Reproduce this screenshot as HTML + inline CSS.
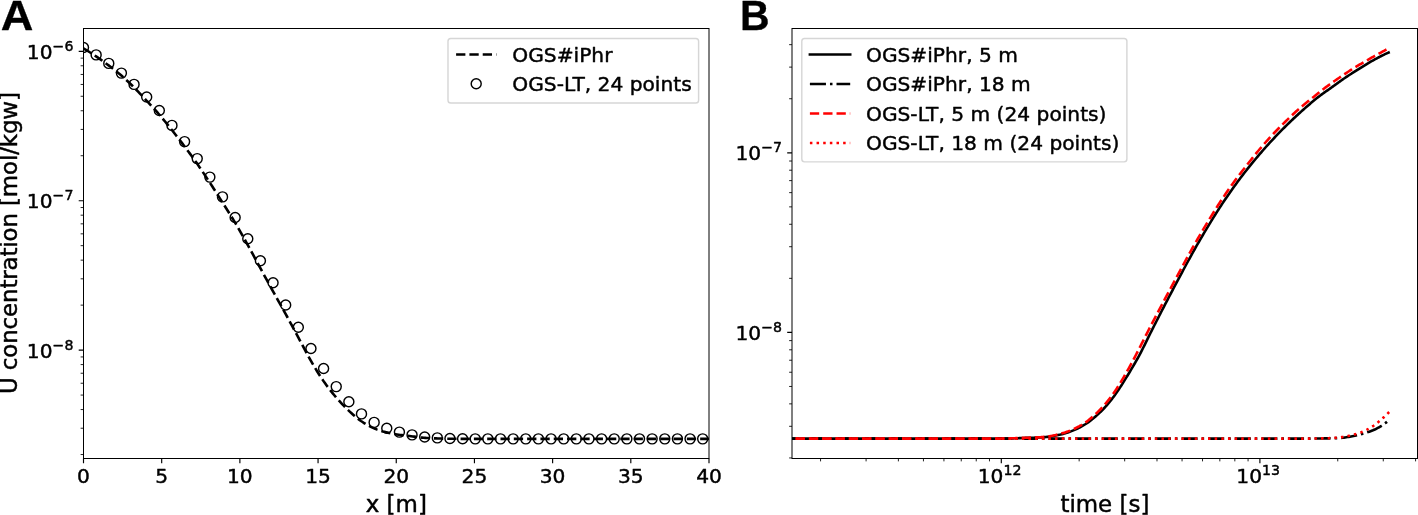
<!DOCTYPE html>
<html lang="en"><head><meta charset="utf-8"><title>Figure</title>
<style>html,body{margin:0;padding:0;background:#fff}body{width:1418px;height:515px;overflow:hidden}svg{display:block}</style>
</head><body>
<svg width="1418" height="515" viewBox="0 0 1418 515" font-family='"DejaVu Sans", "Liberation Sans", sans-serif' font-size="20.2" fill="#000">
<style>text{stroke:#000;stroke-width:0.45px;stroke-linejoin:round}text.b{stroke-width:0.3px}</style>
<rect x="0" y="0" width="1418" height="515" fill="#fff"/>
<defs><clipPath id="ca"><rect x="83.5" y="28.5" width="625.5" height="430"/></clipPath><clipPath id="cb"><rect x="792" y="28.5" width="625.5" height="430"/></clipPath></defs>
<g clip-path="url(#ca)">
<path d="M83.5 48.4 L85.07 49.34 L86.64 50.29 L88.2 51.26 L89.77 52.25 L91.34 53.26 L92.91 54.28 L94.47 55.31 L96.04 56.36 L97.61 57.43 L99.18 58.52 L100.74 59.62 L102.31 60.75 L103.88 61.89 L105.45 63.04 L107.02 64.21 L108.58 65.39 L110.15 66.57 L111.72 67.76 L113.29 68.97 L114.85 70.19 L116.42 71.43 L117.99 72.7 L119.56 73.99 L121.12 75.32 L122.69 76.69 L124.26 78.09 L125.83 79.52 L127.39 80.98 L128.96 82.47 L130.53 83.99 L132.1 85.52 L133.67 87.07 L135.23 88.64 L136.8 90.25 L138.37 91.88 L139.94 93.54 L141.5 95.22 L143.07 96.9 L144.64 98.6 L146.21 100.28 L147.77 101.97 L149.34 103.65 L150.91 105.33 L152.48 107.02 L154.05 108.73 L155.61 110.46 L157.18 112.21 L158.75 113.99 L160.32 115.81 L161.88 117.67 L163.45 119.55 L165.02 121.46 L166.59 123.39 L168.15 125.34 L169.72 127.29 L171.29 129.26 L172.86 131.23 L174.42 133.22 L175.99 135.22 L177.56 137.23 L179.13 139.26 L180.7 141.31 L182.26 143.37 L183.83 145.44 L185.4 147.53 L186.97 149.64 L188.53 151.75 L190.1 153.89 L191.67 156.04 L193.24 158.21 L194.8 160.4 L196.37 162.62 L197.94 164.86 L199.51 167.14 L201.08 169.44 L202.64 171.77 L204.21 174.12 L205.78 176.48 L207.35 178.86 L208.91 181.25 L210.48 183.65 L212.05 186.07 L213.62 188.51 L215.18 190.96 L216.75 193.43 L218.32 195.9 L219.89 198.38 L221.45 200.86 L223.02 203.34 L224.59 205.81 L226.16 208.27 L227.73 210.74 L229.29 213.22 L230.86 215.72 L232.43 218.26 L234 220.83 L235.56 223.45 L237.13 226.12 L238.7 228.83 L240.27 231.58 L241.83 234.35 L243.4 237.15 L244.97 239.96 L246.54 242.79 L248.11 245.61 L249.67 248.46 L251.24 251.34 L252.81 254.23 L254.38 257.14 L255.94 260.05 L257.51 262.96 L259.08 265.85 L260.65 268.74 L262.21 271.61 L263.78 274.49 L265.35 277.36 L266.92 280.23 L268.48 283.09 L270.05 285.95 L271.62 288.8 L273.19 291.64 L274.76 294.46 L276.32 297.27 L277.89 300.07 L279.46 302.86 L281.03 305.66 L282.59 308.47 L284.16 311.29 L285.73 314.14 L287.3 317 L288.86 319.89 L290.43 322.78 L292 325.69 L293.57 328.61 L295.14 331.52 L296.7 334.44 L298.27 337.35 L299.84 340.27 L301.41 343.24 L302.97 346.22 L304.54 349.19 L306.11 352.14 L307.68 355.05 L309.24 357.89 L310.81 360.65 L312.38 363.34 L313.95 366.01 L315.52 368.64 L317.08 371.22 L318.65 373.75 L320.22 376.2 L321.79 378.58 L323.35 380.88 L324.92 383.09 L326.49 385.25 L328.06 387.35 L329.62 389.4 L331.19 391.4 L332.76 393.34 L334.33 395.23 L335.89 397.08 L337.46 398.88 L339.03 400.65 L340.6 402.38 L342.17 404.07 L343.73 405.71 L345.3 407.31 L346.87 408.86 L348.44 410.36 L350 411.83 L351.57 413.27 L353.14 414.69 L354.71 416.06 L356.27 417.39 L357.84 418.66 L359.41 419.86 L360.98 420.98 L362.55 422.03 L364.11 423.05 L365.68 424.03 L367.25 424.96 L368.82 425.85 L370.38 426.68 L371.95 427.44 L373.52 428.14 L375.09 428.78 L376.65 429.38 L378.22 429.94 L379.79 430.47 L381.36 430.97 L382.92 431.44 L384.49 431.87 L386.06 432.27 L387.63 432.64 L389.2 432.99 L390.76 433.32 L392.33 433.63 L393.9 433.92 L395.47 434.19 L397.03 434.45 L398.6 434.7 L400.17 434.93 L401.74 435.14 L403.3 435.33 L404.87 435.52 L406.44 435.7 L408.01 435.88 L409.58 436.05 L411.14 436.23 L412.71 436.42 L414.28 436.63 L415.85 436.84 L417.41 437.05 L418.98 437.25 L420.55 437.44 L422.12 437.61 L423.68 437.75 L425.25 437.87 L426.82 437.97 L428.39 438.06 L429.95 438.15 L431.52 438.23 L433.09 438.3 L434.66 438.37 L436.23 438.42 L437.79 438.48 L439.36 438.52 L440.93 438.57 L442.5 438.61 L444.06 438.65 L445.63 438.69 L447.2 438.71 L448.77 438.74 L450.33 438.76 L451.9 438.78 L453.47 438.79 L455.04 438.81 L456.61 438.82 L458.17 438.84 L459.74 438.84 L461.31 438.85 L462.88 438.85 L464.44 438.85 L466.01 438.85 L467.58 438.85 L469.15 438.85 L470.71 438.85 L472.28 438.85 L473.85 438.85 L475.42 438.85 L476.98 438.85 L478.55 438.85 L480.12 438.85 L481.69 438.85 L483.26 438.85 L484.82 438.85 L486.39 438.85 L487.96 438.85 L489.53 438.85 L491.09 438.85 L492.66 438.85 L494.23 438.85 L495.8 438.85 L497.36 438.85 L498.93 438.85 L500.5 438.85 L502.07 438.85 L503.64 438.85 L505.2 438.85 L506.77 438.85 L508.34 438.85 L509.91 438.85 L511.47 438.85 L513.04 438.85 L514.61 438.85 L516.18 438.85 L517.74 438.85 L519.31 438.85 L520.88 438.85 L522.45 438.85 L524.02 438.85 L525.58 438.85 L527.15 438.85 L528.72 438.85 L530.29 438.85 L531.85 438.85 L533.42 438.85 L534.99 438.85 L536.56 438.85 L538.12 438.85 L539.69 438.85 L541.26 438.85 L542.83 438.85 L544.39 438.85 L545.96 438.85 L547.53 438.85 L549.1 438.85 L550.67 438.85 L552.23 438.85 L553.8 438.85 L555.37 438.85 L556.94 438.85 L558.5 438.85 L560.07 438.85 L561.64 438.85 L563.21 438.85 L564.77 438.85 L566.34 438.85 L567.91 438.85 L569.48 438.85 L571.05 438.85 L572.61 438.85 L574.18 438.85 L575.75 438.85 L577.32 438.85 L578.88 438.85 L580.45 438.85 L582.02 438.85 L583.59 438.85 L585.15 438.85 L586.72 438.85 L588.29 438.85 L589.86 438.85 L591.42 438.85 L592.99 438.85 L594.56 438.85 L596.13 438.85 L597.7 438.85 L599.26 438.85 L600.83 438.85 L602.4 438.85 L603.97 438.85 L605.53 438.85 L607.1 438.85 L608.67 438.85 L610.24 438.85 L611.8 438.85 L613.37 438.85 L614.94 438.85 L616.51 438.85 L618.08 438.85 L619.64 438.85 L621.21 438.85 L622.78 438.85 L624.35 438.85 L625.91 438.85 L627.48 438.85 L629.05 438.85 L630.62 438.85 L632.18 438.85 L633.75 438.85 L635.32 438.85 L636.89 438.85 L638.45 438.85 L640.02 438.85 L641.59 438.85 L643.16 438.85 L644.73 438.85 L646.29 438.85 L647.86 438.85 L649.43 438.85 L651 438.85 L652.56 438.85 L654.13 438.85 L655.7 438.85 L657.27 438.85 L658.83 438.85 L660.4 438.85 L661.97 438.85 L663.54 438.85 L665.11 438.85 L666.67 438.85 L668.24 438.85 L669.81 438.85 L671.38 438.85 L672.94 438.85 L674.51 438.85 L676.08 438.85 L677.65 438.85 L679.21 438.85 L680.78 438.85 L682.35 438.85 L683.92 438.85 L685.48 438.85 L687.05 438.85 L688.62 438.85 L690.19 438.85 L691.76 438.85 L693.32 438.85 L694.89 438.85 L696.46 438.85 L698.03 438.85 L699.59 438.85 L701.16 438.85 L702.73 438.85 L704.3 438.85 L705.86 438.85 L707.43 438.85 L709 438.85" fill="none" stroke="#000" stroke-width="2.6" stroke-dasharray="9.29 4.02"/>
<g fill="none" stroke="#000" stroke-width="1.43">
<circle cx="83.5" cy="47.5" r="5.0"/>
<circle cx="96.14" cy="54.9" r="5.0"/>
<circle cx="108.77" cy="63.4" r="5.0"/>
<circle cx="121.41" cy="73.1" r="5.0"/>
<circle cx="134.05" cy="84.4" r="5.0"/>
<circle cx="146.68" cy="97" r="5.0"/>
<circle cx="159.32" cy="110.5" r="5.0"/>
<circle cx="171.95" cy="125.4" r="5.0"/>
<circle cx="184.59" cy="141.6" r="5.0"/>
<circle cx="197.23" cy="158.6" r="5.0"/>
<circle cx="209.86" cy="177.1" r="5.0"/>
<circle cx="222.5" cy="196.9" r="5.0"/>
<circle cx="235.14" cy="217.5" r="5.0"/>
<circle cx="247.77" cy="238.8" r="5.0"/>
<circle cx="260.41" cy="260.8" r="5.0"/>
<circle cx="273.05" cy="282.7" r="5.0"/>
<circle cx="285.68" cy="305" r="5.0"/>
<circle cx="298.32" cy="327.2" r="5.0"/>
<circle cx="310.95" cy="348.5" r="5.0"/>
<circle cx="323.59" cy="368.5" r="5.0"/>
<circle cx="336.23" cy="386.6" r="5.0"/>
<circle cx="348.86" cy="401.7" r="5.0"/>
<circle cx="361.5" cy="413.9" r="5.0"/>
<circle cx="374.14" cy="422.4" r="5.0"/>
<circle cx="386.77" cy="428.3" r="5.0"/>
<circle cx="399.41" cy="432.1" r="5.0"/>
<circle cx="412.05" cy="434.9" r="5.0"/>
<circle cx="424.68" cy="437" r="5.0"/>
<circle cx="437.32" cy="437.9" r="5.0"/>
<circle cx="449.95" cy="438.45" r="5.0"/>
<circle cx="462.59" cy="438.75" r="5.0"/>
<circle cx="475.23" cy="438.85" r="5.0"/>
<circle cx="487.86" cy="438.85" r="5.0"/>
<circle cx="500.5" cy="438.85" r="5.0"/>
<circle cx="513.14" cy="438.85" r="5.0"/>
<circle cx="525.77" cy="438.85" r="5.0"/>
<circle cx="538.41" cy="438.85" r="5.0"/>
<circle cx="551.05" cy="438.85" r="5.0"/>
<circle cx="563.68" cy="438.85" r="5.0"/>
<circle cx="576.32" cy="438.85" r="5.0"/>
<circle cx="588.95" cy="438.85" r="5.0"/>
<circle cx="601.59" cy="438.85" r="5.0"/>
<circle cx="614.23" cy="438.85" r="5.0"/>
<circle cx="626.86" cy="438.85" r="5.0"/>
<circle cx="639.5" cy="438.85" r="5.0"/>
<circle cx="652.14" cy="438.85" r="5.0"/>
<circle cx="664.77" cy="438.85" r="5.0"/>
<circle cx="677.41" cy="438.85" r="5.0"/>
<circle cx="690.05" cy="438.85" r="5.0"/>
<circle cx="702.68" cy="438.85" r="5.0"/>
</g></g>
<g clip-path="url(#cb)" fill="none" stroke-width="2.6">
<path d="M782.4 438.6 L783.61 438.6 L784.83 438.6 L786.04 438.6 L787.26 438.6 L788.47 438.6 L789.69 438.6 L790.9 438.6 L792.12 438.6 L793.33 438.6 L794.55 438.6 L795.76 438.6 L796.98 438.6 L798.19 438.6 L799.41 438.6 L800.62 438.6 L801.84 438.6 L803.05 438.6 L804.27 438.6 L805.48 438.6 L806.7 438.6 L807.91 438.6 L809.13 438.6 L810.34 438.6 L811.56 438.6 L812.77 438.6 L813.99 438.6 L815.2 438.6 L816.42 438.6 L817.63 438.6 L818.84 438.6 L820.06 438.6 L821.27 438.6 L822.49 438.6 L823.7 438.6 L824.92 438.6 L826.13 438.6 L827.35 438.6 L828.56 438.6 L829.78 438.6 L830.99 438.6 L832.21 438.6 L833.42 438.6 L834.64 438.6 L835.85 438.6 L837.07 438.6 L838.28 438.6 L839.5 438.6 L840.71 438.6 L841.93 438.6 L843.14 438.6 L844.36 438.6 L845.57 438.6 L846.79 438.6 L848 438.6 L849.22 438.6 L850.43 438.6 L851.65 438.6 L852.86 438.6 L854.07 438.6 L855.29 438.6 L856.5 438.6 L857.72 438.6 L858.93 438.6 L860.15 438.6 L861.36 438.6 L862.58 438.6 L863.79 438.6 L865.01 438.6 L866.22 438.6 L867.44 438.6 L868.65 438.6 L869.87 438.6 L871.08 438.6 L872.3 438.6 L873.51 438.6 L874.73 438.6 L875.94 438.6 L877.16 438.6 L878.37 438.6 L879.59 438.6 L880.8 438.6 L882.02 438.6 L883.23 438.6 L884.45 438.6 L885.66 438.6 L886.88 438.6 L888.09 438.6 L889.31 438.6 L890.52 438.6 L891.73 438.6 L892.95 438.6 L894.16 438.6 L895.38 438.6 L896.59 438.6 L897.81 438.6 L899.02 438.6 L900.24 438.6 L901.45 438.6 L902.67 438.6 L903.88 438.6 L905.1 438.6 L906.31 438.6 L907.53 438.6 L908.74 438.6 L909.96 438.6 L911.17 438.6 L912.39 438.6 L913.6 438.6 L914.82 438.6 L916.03 438.6 L917.25 438.6 L918.46 438.6 L919.68 438.6 L920.89 438.6 L922.11 438.6 L923.32 438.6 L924.54 438.6 L925.75 438.6 L926.96 438.6 L928.18 438.6 L929.39 438.6 L930.61 438.6 L931.82 438.6 L933.04 438.6 L934.25 438.6 L935.47 438.6 L936.68 438.6 L937.9 438.6 L939.11 438.6 L940.33 438.6 L941.54 438.6 L942.76 438.6 L943.97 438.6 L945.19 438.6 L946.4 438.6 L947.62 438.6 L948.83 438.6 L950.05 438.6 L951.26 438.6 L952.48 438.6 L953.69 438.6 L954.91 438.6 L956.12 438.6 L957.34 438.6 L958.55 438.6 L959.77 438.6 L960.98 438.6 L962.19 438.6 L963.41 438.6 L964.62 438.6 L965.84 438.6 L967.05 438.6 L968.27 438.6 L969.48 438.6 L970.7 438.6 L971.91 438.6 L973.13 438.6 L974.34 438.6 L975.56 438.6 L976.77 438.6 L977.99 438.6 L979.2 438.6 L980.42 438.6 L981.63 438.6 L982.85 438.6 L984.06 438.6 L985.28 438.6 L986.49 438.6 L987.71 438.6 L988.92 438.6 L990.14 438.6 L991.35 438.6 L992.57 438.6 L993.78 438.6 L995 438.6 L996.21 438.6 L997.42 438.6 L998.64 438.6 L999.85 438.6 L1001.07 438.6 L1002.28 438.59 L1003.5 438.58 L1004.71 438.56 L1005.93 438.53 L1007.14 438.51 L1008.36 438.48 L1009.57 438.45 L1010.79 438.42 L1012 438.38 L1013.22 438.35 L1014.43 438.32 L1015.65 438.28 L1016.86 438.24 L1018.08 438.19 L1019.29 438.14 L1020.51 438.09 L1021.72 438.04 L1022.94 437.99 L1024.15 437.94 L1025.37 437.9 L1026.58 437.86 L1027.8 437.83 L1029.01 437.8 L1030.23 437.77 L1031.44 437.74 L1032.65 437.71 L1033.87 437.68 L1035.08 437.65 L1036.3 437.62 L1037.51 437.58 L1038.73 437.53 L1039.94 437.48 L1041.16 437.42 L1042.37 437.33 L1043.59 437.24 L1044.8 437.13 L1046.02 437.01 L1047.23 436.88 L1048.45 436.74 L1049.66 436.6 L1050.88 436.44 L1052.09 436.25 L1053.31 436.04 L1054.52 435.82 L1055.74 435.58 L1056.95 435.33 L1058.17 435.07 L1059.38 434.8 L1060.6 434.52 L1061.81 434.21 L1063.03 433.9 L1064.24 433.56 L1065.46 433.2 L1066.67 432.83 L1067.88 432.44 L1069.1 432.04 L1070.31 431.6 L1071.53 431.14 L1072.74 430.65 L1073.96 430.14 L1075.17 429.6 L1076.39 429.05 L1077.6 428.47 L1078.82 427.88 L1080.03 427.26 L1081.25 426.61 L1082.46 425.94 L1083.68 425.24 L1084.89 424.51 L1086.11 423.74 L1087.32 422.95 L1088.54 422.13 L1089.75 421.25 L1090.97 420.33 L1092.18 419.36 L1093.4 418.35 L1094.61 417.31 L1095.83 416.24 L1097.04 415.14 L1098.26 414.03 L1099.47 412.89 L1100.69 411.72 L1101.9 410.51 L1103.12 409.27 L1104.33 407.99 L1105.54 406.68 L1106.76 405.32 L1107.97 403.92 L1109.19 402.47 L1110.4 400.96 L1111.62 399.4 L1112.83 397.8 L1114.05 396.15 L1115.26 394.47 L1116.48 392.76 L1117.69 391.02 L1118.91 389.24 L1120.12 387.4 L1121.34 385.51 L1122.55 383.59 L1123.77 381.64 L1124.98 379.67 L1126.2 377.69 L1127.41 375.7 L1128.63 373.71 L1129.84 371.71 L1131.06 369.7 L1132.27 367.66 L1133.49 365.61 L1134.7 363.52 L1135.92 361.41 L1137.13 359.25 L1138.35 357.06 L1139.56 354.82 L1140.77 352.52 L1141.99 350.16 L1143.2 347.75 L1144.42 345.3 L1145.63 342.84 L1146.85 340.36 L1148.06 337.88 L1149.28 335.41 L1150.49 332.96 L1151.71 330.55 L1152.92 328.15 L1154.14 325.76 L1155.35 323.37 L1156.57 320.98 L1157.78 318.59 L1159 316.22 L1160.21 313.85 L1161.43 311.48 L1162.64 309.13 L1163.86 306.79 L1165.07 304.45 L1166.29 302.12 L1167.5 299.79 L1168.72 297.47 L1169.93 295.15 L1171.15 292.84 L1172.36 290.53 L1173.58 288.23 L1174.79 285.94 L1176 283.65 L1177.22 281.36 L1178.43 279.08 L1179.65 276.81 L1180.86 274.54 L1182.08 272.28 L1183.29 270.01 L1184.51 267.75 L1185.72 265.49 L1186.94 263.24 L1188.15 261 L1189.37 258.77 L1190.58 256.55 L1191.8 254.34 L1193.01 252.16 L1194.23 249.99 L1195.44 247.84 L1196.66 245.7 L1197.87 243.59 L1199.09 241.49 L1200.3 239.4 L1201.52 237.32 L1202.73 235.26 L1203.95 233.21 L1205.16 231.17 L1206.38 229.14 L1207.59 227.11 L1208.81 225.09 L1210.02 223.09 L1211.23 221.09 L1212.45 219.12 L1213.66 217.15 L1214.88 215.21 L1216.09 213.28 L1217.31 211.37 L1218.52 209.48 L1219.74 207.6 L1220.95 205.73 L1222.17 203.88 L1223.38 202.05 L1224.6 200.23 L1225.81 198.43 L1227.03 196.65 L1228.24 194.89 L1229.46 193.15 L1230.67 191.42 L1231.89 189.7 L1233.1 188 L1234.32 186.31 L1235.53 184.64 L1236.75 182.98 L1237.96 181.34 L1239.18 179.71 L1240.39 178.09 L1241.61 176.49 L1242.82 174.9 L1244.04 173.32 L1245.25 171.76 L1246.46 170.21 L1247.68 168.67 L1248.89 167.15 L1250.11 165.64 L1251.32 164.14 L1252.54 162.65 L1253.75 161.17 L1254.97 159.71 L1256.18 158.25 L1257.4 156.8 L1258.61 155.37 L1259.83 153.94 L1261.04 152.53 L1262.26 151.13 L1263.47 149.74 L1264.69 148.37 L1265.9 147 L1267.12 145.65 L1268.33 144.3 L1269.55 142.97 L1270.76 141.65 L1271.98 140.33 L1273.19 139.03 L1274.41 137.74 L1275.62 136.45 L1276.84 135.18 L1278.05 133.92 L1279.27 132.66 L1280.48 131.41 L1281.69 130.18 L1282.91 128.95 L1284.12 127.73 L1285.34 126.52 L1286.55 125.32 L1287.77 124.13 L1288.98 122.95 L1290.2 121.78 L1291.41 120.61 L1292.63 119.46 L1293.84 118.31 L1295.06 117.18 L1296.27 116.05 L1297.49 114.93 L1298.7 113.82 L1299.92 112.71 L1301.13 111.62 L1302.35 110.53 L1303.56 109.45 L1304.78 108.38 L1305.99 107.31 L1307.21 106.25 L1308.42 105.19 L1309.64 104.14 L1310.85 103.09 L1312.07 102.06 L1313.28 101.03 L1314.5 100.03 L1315.71 99.04 L1316.93 98.07 L1318.14 97.11 L1319.35 96.18 L1320.57 95.28 L1321.78 94.38 L1323 93.51 L1324.21 92.64 L1325.43 91.78 L1326.64 90.93 L1327.86 90.08 L1329.07 89.22 L1330.29 88.36 L1331.5 87.5 L1332.72 86.62 L1333.93 85.75 L1335.15 84.86 L1336.36 83.98 L1337.58 83.1 L1338.79 82.22 L1340.01 81.35 L1341.22 80.49 L1342.44 79.63 L1343.65 78.79 L1344.87 77.96 L1346.08 77.14 L1347.3 76.34 L1348.51 75.54 L1349.73 74.76 L1350.94 73.98 L1352.16 73.2 L1353.37 72.44 L1354.58 71.67 L1355.8 70.91 L1357.01 70.15 L1358.23 69.39 L1359.44 68.63 L1360.66 67.87 L1361.87 67.11 L1363.09 66.34 L1364.3 65.58 L1365.52 64.82 L1366.73 64.07 L1367.95 63.33 L1369.16 62.61 L1370.38 61.89 L1371.59 61.2 L1372.81 60.52 L1374.02 59.85 L1375.24 59.19 L1376.45 58.53 L1377.67 57.89 L1378.88 57.25 L1380.1 56.62 L1381.31 56 L1382.53 55.39 L1383.74 54.79 L1384.96 54.2 L1386.17 53.63 L1387.39 53.06 L1388.6 52.5" stroke="#000" stroke-linecap="square"/>
<path d="M782.4 438.6 L783.61 438.6 L784.83 438.6 L786.04 438.6 L787.25 438.6 L788.46 438.6 L789.68 438.6 L790.89 438.6 L792.1 438.6 L793.31 438.6 L794.53 438.6 L795.74 438.6 L796.95 438.6 L798.16 438.6 L799.38 438.6 L800.59 438.6 L801.8 438.6 L803.01 438.6 L804.23 438.6 L805.44 438.6 L806.65 438.6 L807.87 438.6 L809.08 438.6 L810.29 438.6 L811.5 438.6 L812.72 438.6 L813.93 438.6 L815.14 438.6 L816.35 438.6 L817.57 438.6 L818.78 438.6 L819.99 438.6 L821.2 438.6 L822.42 438.6 L823.63 438.6 L824.84 438.6 L826.05 438.6 L827.27 438.6 L828.48 438.6 L829.69 438.6 L830.91 438.6 L832.12 438.6 L833.33 438.6 L834.54 438.6 L835.76 438.6 L836.97 438.6 L838.18 438.6 L839.39 438.6 L840.61 438.6 L841.82 438.6 L843.03 438.6 L844.24 438.6 L845.46 438.6 L846.67 438.6 L847.88 438.6 L849.09 438.6 L850.31 438.6 L851.52 438.6 L852.73 438.6 L853.94 438.6 L855.16 438.6 L856.37 438.6 L857.58 438.6 L858.8 438.6 L860.01 438.6 L861.22 438.6 L862.43 438.6 L863.65 438.6 L864.86 438.6 L866.07 438.6 L867.28 438.6 L868.5 438.6 L869.71 438.6 L870.92 438.6 L872.13 438.6 L873.35 438.6 L874.56 438.6 L875.77 438.6 L876.98 438.6 L878.2 438.6 L879.41 438.6 L880.62 438.6 L881.84 438.6 L883.05 438.6 L884.26 438.6 L885.47 438.6 L886.69 438.6 L887.9 438.6 L889.11 438.6 L890.32 438.6 L891.54 438.6 L892.75 438.6 L893.96 438.6 L895.17 438.6 L896.39 438.6 L897.6 438.6 L898.81 438.6 L900.02 438.6 L901.24 438.6 L902.45 438.6 L903.66 438.6 L904.88 438.6 L906.09 438.6 L907.3 438.6 L908.51 438.6 L909.73 438.6 L910.94 438.6 L912.15 438.6 L913.36 438.6 L914.58 438.6 L915.79 438.6 L917 438.6 L918.21 438.6 L919.43 438.6 L920.64 438.6 L921.85 438.6 L923.06 438.6 L924.28 438.6 L925.49 438.6 L926.7 438.6 L927.92 438.6 L929.13 438.6 L930.34 438.6 L931.55 438.6 L932.77 438.6 L933.98 438.6 L935.19 438.6 L936.4 438.6 L937.62 438.6 L938.83 438.6 L940.04 438.6 L941.25 438.6 L942.47 438.6 L943.68 438.6 L944.89 438.6 L946.1 438.6 L947.32 438.6 L948.53 438.6 L949.74 438.6 L950.95 438.6 L952.17 438.6 L953.38 438.6 L954.59 438.6 L955.81 438.6 L957.02 438.6 L958.23 438.6 L959.44 438.6 L960.66 438.6 L961.87 438.6 L963.08 438.6 L964.29 438.6 L965.51 438.6 L966.72 438.6 L967.93 438.6 L969.14 438.6 L970.36 438.6 L971.57 438.6 L972.78 438.6 L973.99 438.6 L975.21 438.6 L976.42 438.6 L977.63 438.6 L978.85 438.6 L980.06 438.6 L981.27 438.6 L982.48 438.6 L983.7 438.6 L984.91 438.6 L986.12 438.6 L987.33 438.6 L988.55 438.6 L989.76 438.6 L990.97 438.6 L992.18 438.6 L993.4 438.6 L994.61 438.6 L995.82 438.6 L997.03 438.6 L998.25 438.6 L999.46 438.6 L1000.67 438.6 L1001.89 438.6 L1003.1 438.6 L1004.31 438.6 L1005.52 438.6 L1006.74 438.6 L1007.95 438.6 L1009.16 438.6 L1010.37 438.6 L1011.59 438.6 L1012.8 438.6 L1014.01 438.6 L1015.22 438.6 L1016.44 438.6 L1017.65 438.6 L1018.86 438.6 L1020.07 438.6 L1021.29 438.6 L1022.5 438.6 L1023.71 438.6 L1024.93 438.6 L1026.14 438.6 L1027.35 438.6 L1028.56 438.6 L1029.78 438.6 L1030.99 438.6 L1032.2 438.6 L1033.41 438.6 L1034.63 438.6 L1035.84 438.6 L1037.05 438.6 L1038.26 438.6 L1039.48 438.6 L1040.69 438.6 L1041.9 438.6 L1043.11 438.6 L1044.33 438.6 L1045.54 438.6 L1046.75 438.6 L1047.96 438.6 L1049.18 438.6 L1050.39 438.6 L1051.6 438.6 L1052.82 438.6 L1054.03 438.6 L1055.24 438.6 L1056.45 438.6 L1057.67 438.6 L1058.88 438.6 L1060.09 438.6 L1061.3 438.6 L1062.52 438.6 L1063.73 438.6 L1064.94 438.6 L1066.15 438.6 L1067.37 438.6 L1068.58 438.6 L1069.79 438.6 L1071 438.6 L1072.22 438.6 L1073.43 438.6 L1074.64 438.6 L1075.86 438.6 L1077.07 438.6 L1078.28 438.6 L1079.49 438.6 L1080.71 438.6 L1081.92 438.6 L1083.13 438.6 L1084.34 438.6 L1085.56 438.6 L1086.77 438.6 L1087.98 438.6 L1089.19 438.6 L1090.41 438.6 L1091.62 438.6 L1092.83 438.6 L1094.04 438.6 L1095.26 438.6 L1096.47 438.6 L1097.68 438.6 L1098.9 438.6 L1100.11 438.6 L1101.32 438.6 L1102.53 438.6 L1103.75 438.6 L1104.96 438.6 L1106.17 438.6 L1107.38 438.6 L1108.6 438.6 L1109.81 438.6 L1111.02 438.6 L1112.23 438.6 L1113.45 438.6 L1114.66 438.6 L1115.87 438.6 L1117.08 438.6 L1118.3 438.6 L1119.51 438.6 L1120.72 438.6 L1121.94 438.6 L1123.15 438.6 L1124.36 438.6 L1125.57 438.6 L1126.79 438.6 L1128 438.6 L1129.21 438.6 L1130.42 438.6 L1131.64 438.6 L1132.85 438.6 L1134.06 438.6 L1135.27 438.6 L1136.49 438.6 L1137.7 438.6 L1138.91 438.6 L1140.12 438.6 L1141.34 438.6 L1142.55 438.6 L1143.76 438.6 L1144.97 438.6 L1146.19 438.6 L1147.4 438.6 L1148.61 438.6 L1149.83 438.6 L1151.04 438.6 L1152.25 438.6 L1153.46 438.6 L1154.68 438.6 L1155.89 438.6 L1157.1 438.6 L1158.31 438.6 L1159.53 438.6 L1160.74 438.6 L1161.95 438.6 L1163.16 438.6 L1164.38 438.6 L1165.59 438.6 L1166.8 438.6 L1168.01 438.6 L1169.23 438.6 L1170.44 438.6 L1171.65 438.6 L1172.87 438.6 L1174.08 438.6 L1175.29 438.6 L1176.5 438.6 L1177.72 438.6 L1178.93 438.6 L1180.14 438.6 L1181.35 438.6 L1182.57 438.6 L1183.78 438.6 L1184.99 438.6 L1186.2 438.6 L1187.42 438.6 L1188.63 438.6 L1189.84 438.6 L1191.05 438.6 L1192.27 438.6 L1193.48 438.6 L1194.69 438.6 L1195.91 438.6 L1197.12 438.6 L1198.33 438.6 L1199.54 438.6 L1200.76 438.6 L1201.97 438.6 L1203.18 438.6 L1204.39 438.6 L1205.61 438.6 L1206.82 438.6 L1208.03 438.6 L1209.24 438.6 L1210.46 438.6 L1211.67 438.6 L1212.88 438.6 L1214.09 438.6 L1215.31 438.6 L1216.52 438.6 L1217.73 438.6 L1218.95 438.6 L1220.16 438.6 L1221.37 438.6 L1222.58 438.6 L1223.8 438.6 L1225.01 438.6 L1226.22 438.6 L1227.43 438.6 L1228.65 438.6 L1229.86 438.6 L1231.07 438.6 L1232.28 438.6 L1233.5 438.6 L1234.71 438.6 L1235.92 438.6 L1237.13 438.6 L1238.35 438.6 L1239.56 438.6 L1240.77 438.6 L1241.98 438.6 L1243.2 438.6 L1244.41 438.6 L1245.62 438.6 L1246.84 438.6 L1248.05 438.6 L1249.26 438.6 L1250.47 438.6 L1251.69 438.6 L1252.9 438.6 L1254.11 438.6 L1255.32 438.6 L1256.54 438.6 L1257.75 438.6 L1258.96 438.6 L1260.17 438.6 L1261.39 438.6 L1262.6 438.6 L1263.81 438.6 L1265.02 438.6 L1266.24 438.6 L1267.45 438.6 L1268.66 438.6 L1269.88 438.6 L1271.09 438.6 L1272.3 438.6 L1273.51 438.6 L1274.73 438.6 L1275.94 438.6 L1277.15 438.6 L1278.36 438.6 L1279.58 438.6 L1280.79 438.6 L1282 438.6 L1283.21 438.6 L1284.43 438.6 L1285.64 438.6 L1286.85 438.6 L1288.06 438.6 L1289.28 438.6 L1290.49 438.6 L1291.7 438.6 L1292.92 438.6 L1294.13 438.6 L1295.34 438.6 L1296.55 438.6 L1297.77 438.6 L1298.98 438.6 L1300.19 438.6 L1301.4 438.6 L1302.62 438.6 L1303.83 438.6 L1305.04 438.6 L1306.25 438.6 L1307.47 438.6 L1308.68 438.6 L1309.89 438.6 L1311.1 438.6 L1312.32 438.59 L1313.53 438.58 L1314.74 438.57 L1315.96 438.55 L1317.17 438.53 L1318.38 438.51 L1319.59 438.49 L1320.81 438.47 L1322.02 438.45 L1323.23 438.43 L1324.44 438.41 L1325.66 438.39 L1326.87 438.37 L1328.08 438.35 L1329.29 438.33 L1330.51 438.31 L1331.72 438.28 L1332.93 438.25 L1334.14 438.21 L1335.36 438.16 L1336.57 438.11 L1337.78 438.05 L1338.99 437.99 L1340.21 437.91 L1341.42 437.83 L1342.63 437.74 L1343.85 437.61 L1345.06 437.44 L1346.27 437.26 L1347.48 437.08 L1348.7 436.89 L1349.91 436.7 L1351.12 436.5 L1352.33 436.28 L1353.55 436.05 L1354.76 435.8 L1355.97 435.53 L1357.18 435.23 L1358.4 434.92 L1359.61 434.59 L1360.82 434.26 L1362.03 433.92 L1363.25 433.57 L1364.46 433.22 L1365.67 432.85 L1366.89 432.47 L1368.1 432.07 L1369.31 431.65 L1370.52 431.21 L1371.74 430.75 L1372.95 430.27 L1374.16 429.75 L1375.37 429.2 L1376.59 428.6 L1377.8 427.96 L1379.01 427.29 L1380.22 426.59 L1381.44 425.85 L1382.65 425.06 L1383.86 424.23 L1385.07 423.34 L1386.29 422.38 L1387.5 421.3" stroke="#000" stroke-dasharray="16.06 4.02 2.51 4.02"/>
<path d="M782.4 438.6 L783.61 438.6 L784.82 438.6 L786.03 438.6 L787.24 438.6 L788.45 438.6 L789.66 438.6 L790.87 438.6 L792.08 438.6 L793.3 438.6 L794.51 438.6 L795.72 438.6 L796.93 438.6 L798.14 438.6 L799.35 438.6 L800.56 438.6 L801.77 438.6 L802.98 438.6 L804.19 438.6 L805.4 438.6 L806.61 438.6 L807.82 438.6 L809.03 438.6 L810.24 438.6 L811.45 438.6 L812.67 438.6 L813.88 438.6 L815.09 438.6 L816.3 438.6 L817.51 438.6 L818.72 438.6 L819.93 438.6 L821.14 438.6 L822.35 438.6 L823.56 438.6 L824.77 438.6 L825.98 438.6 L827.19 438.6 L828.4 438.6 L829.61 438.6 L830.82 438.6 L832.04 438.6 L833.25 438.6 L834.46 438.6 L835.67 438.6 L836.88 438.6 L838.09 438.6 L839.3 438.6 L840.51 438.6 L841.72 438.6 L842.93 438.6 L844.14 438.6 L845.35 438.6 L846.56 438.6 L847.77 438.6 L848.98 438.6 L850.19 438.6 L851.41 438.6 L852.62 438.6 L853.83 438.6 L855.04 438.6 L856.25 438.6 L857.46 438.6 L858.67 438.6 L859.88 438.6 L861.09 438.6 L862.3 438.6 L863.51 438.6 L864.72 438.6 L865.93 438.6 L867.14 438.6 L868.35 438.6 L869.56 438.6 L870.78 438.6 L871.99 438.6 L873.2 438.6 L874.41 438.6 L875.62 438.6 L876.83 438.6 L878.04 438.6 L879.25 438.6 L880.46 438.6 L881.67 438.6 L882.88 438.6 L884.09 438.6 L885.3 438.6 L886.51 438.6 L887.72 438.6 L888.93 438.6 L890.15 438.6 L891.36 438.6 L892.57 438.6 L893.78 438.6 L894.99 438.6 L896.2 438.6 L897.41 438.6 L898.62 438.6 L899.83 438.6 L901.04 438.6 L902.25 438.6 L903.46 438.6 L904.67 438.6 L905.88 438.6 L907.09 438.6 L908.3 438.6 L909.52 438.6 L910.73 438.6 L911.94 438.6 L913.15 438.6 L914.36 438.6 L915.57 438.6 L916.78 438.6 L917.99 438.6 L919.2 438.6 L920.41 438.6 L921.62 438.6 L922.83 438.6 L924.04 438.6 L925.25 438.6 L926.46 438.6 L927.67 438.6 L928.89 438.6 L930.1 438.6 L931.31 438.6 L932.52 438.6 L933.73 438.6 L934.94 438.6 L936.15 438.6 L937.36 438.6 L938.57 438.6 L939.78 438.6 L940.99 438.6 L942.2 438.6 L943.41 438.6 L944.62 438.6 L945.83 438.6 L947.04 438.6 L948.26 438.6 L949.47 438.6 L950.68 438.6 L951.89 438.6 L953.1 438.6 L954.31 438.6 L955.52 438.6 L956.73 438.6 L957.94 438.6 L959.15 438.6 L960.36 438.6 L961.57 438.6 L962.78 438.6 L963.99 438.6 L965.2 438.6 L966.41 438.6 L967.63 438.6 L968.84 438.6 L970.05 438.6 L971.26 438.6 L972.47 438.6 L973.68 438.6 L974.89 438.6 L976.1 438.6 L977.31 438.6 L978.52 438.6 L979.73 438.6 L980.94 438.6 L982.15 438.6 L983.36 438.6 L984.57 438.6 L985.78 438.6 L986.99 438.6 L988.21 438.6 L989.42 438.6 L990.63 438.6 L991.84 438.6 L993.05 438.6 L994.26 438.6 L995.47 438.6 L996.68 438.6 L997.89 438.6 L999.1 438.59 L1000.31 438.58 L1001.52 438.56 L1002.73 438.54 L1003.94 438.51 L1005.15 438.48 L1006.36 438.45 L1007.58 438.42 L1008.79 438.39 L1010 438.36 L1011.21 438.32 L1012.42 438.29 L1013.63 438.25 L1014.84 438.21 L1016.05 438.16 L1017.26 438.11 L1018.47 438.06 L1019.68 438.01 L1020.89 437.95 L1022.1 437.91 L1023.31 437.86 L1024.52 437.82 L1025.73 437.78 L1026.95 437.75 L1028.16 437.71 L1029.37 437.67 L1030.58 437.63 L1031.79 437.59 L1033 437.55 L1034.21 437.5 L1035.42 437.45 L1036.63 437.39 L1037.84 437.33 L1039.05 437.26 L1040.26 437.18 L1041.47 437.09 L1042.68 436.99 L1043.89 436.88 L1045.1 436.77 L1046.32 436.64 L1047.53 436.5 L1048.74 436.32 L1049.95 436.13 L1051.16 435.91 L1052.37 435.68 L1053.58 435.43 L1054.79 435.17 L1056 434.91 L1057.21 434.64 L1058.42 434.35 L1059.63 434.04 L1060.84 433.71 L1062.05 433.37 L1063.26 433.01 L1064.47 432.64 L1065.69 432.24 L1066.9 431.83 L1068.11 431.39 L1069.32 430.92 L1070.53 430.43 L1071.74 429.92 L1072.95 429.38 L1074.16 428.82 L1075.37 428.25 L1076.58 427.65 L1077.79 427.03 L1079 426.39 L1080.21 425.71 L1081.42 425.01 L1082.63 424.27 L1083.84 423.51 L1085.06 422.71 L1086.27 421.88 L1087.48 421 L1088.69 420.07 L1089.9 419.09 L1091.11 418.08 L1092.32 417.03 L1093.53 415.95 L1094.74 414.86 L1095.95 413.74 L1097.16 412.6 L1098.37 411.43 L1099.58 410.22 L1100.79 408.98 L1102 407.7 L1103.21 406.38 L1104.43 405.02 L1105.64 403.63 L1106.85 402.18 L1108.06 400.68 L1109.27 399.13 L1110.48 397.54 L1111.69 395.9 L1112.9 394.23 L1114.11 392.51 L1115.32 390.76 L1116.53 388.94 L1117.74 387.07 L1118.95 385.14 L1120.16 383.16 L1121.37 381.15 L1122.58 379.11 L1123.8 377.05 L1125.01 374.98 L1126.22 372.86 L1127.43 370.71 L1128.64 368.53 L1129.85 366.32 L1131.06 364.08 L1132.27 361.83 L1133.48 359.56 L1134.69 357.27 L1135.9 354.99 L1137.11 352.68 L1138.32 350.34 L1139.53 347.98 L1140.74 345.59 L1141.95 343.2 L1143.17 340.8 L1144.38 338.39 L1145.59 336 L1146.8 333.62 L1148.01 331.25 L1149.22 328.91 L1150.43 326.58 L1151.64 324.25 L1152.85 321.93 L1154.06 319.61 L1155.27 317.3 L1156.48 315 L1157.69 312.7 L1158.9 310.4 L1160.11 308.11 L1161.32 305.82 L1162.54 303.53 L1163.75 301.25 L1164.96 298.98 L1166.17 296.71 L1167.38 294.44 L1168.59 292.17 L1169.8 289.91 L1171.01 287.65 L1172.22 285.39 L1173.43 283.13 L1174.64 280.88 L1175.85 278.63 L1177.06 276.38 L1178.27 274.13 L1179.48 271.87 L1180.69 269.62 L1181.91 267.37 L1183.12 265.12 L1184.33 262.88 L1185.54 260.65 L1186.75 258.42 L1187.96 256.21 L1189.17 254.01 L1190.38 251.83 L1191.59 249.66 L1192.8 247.51 L1194.01 245.36 L1195.22 243.23 L1196.43 241.11 L1197.64 239.01 L1198.85 236.91 L1200.06 234.83 L1201.27 232.77 L1202.49 230.71 L1203.7 228.67 L1204.91 226.63 L1206.12 224.61 L1207.33 222.61 L1208.54 220.61 L1209.75 218.63 L1210.96 216.66 L1212.17 214.7 L1213.38 212.75 L1214.59 210.81 L1215.8 208.88 L1217.01 206.96 L1218.22 205.06 L1219.43 203.18 L1220.64 201.32 L1221.86 199.48 L1223.07 197.66 L1224.28 195.85 L1225.49 194.06 L1226.7 192.28 L1227.91 190.53 L1229.12 188.78 L1230.33 187.06 L1231.54 185.35 L1232.75 183.66 L1233.96 181.99 L1235.17 180.35 L1236.38 178.72 L1237.59 177.11 L1238.8 175.52 L1240.01 173.93 L1241.23 172.36 L1242.44 170.8 L1243.65 169.24 L1244.86 167.68 L1246.07 166.13 L1247.28 164.57 L1248.49 163.02 L1249.7 161.48 L1250.91 159.94 L1252.12 158.41 L1253.33 156.89 L1254.54 155.38 L1255.75 153.89 L1256.96 152.42 L1258.17 150.97 L1259.38 149.53 L1260.6 148.1 L1261.81 146.68 L1263.02 145.28 L1264.23 143.88 L1265.44 142.51 L1266.65 141.14 L1267.86 139.79 L1269.07 138.45 L1270.28 137.13 L1271.49 135.82 L1272.7 134.53 L1273.91 133.25 L1275.12 131.98 L1276.33 130.73 L1277.54 129.48 L1278.75 128.25 L1279.97 127.03 L1281.18 125.82 L1282.39 124.61 L1283.6 123.41 L1284.81 122.22 L1286.02 121.03 L1287.23 119.85 L1288.44 118.67 L1289.65 117.5 L1290.86 116.34 L1292.07 115.19 L1293.28 114.05 L1294.49 112.93 L1295.7 111.82 L1296.91 110.73 L1298.12 109.66 L1299.34 108.61 L1300.55 107.58 L1301.76 106.56 L1302.97 105.55 L1304.18 104.55 L1305.39 103.56 L1306.6 102.58 L1307.81 101.6 L1309.02 100.62 L1310.23 99.64 L1311.44 98.65 L1312.65 97.66 L1313.86 96.67 L1315.07 95.68 L1316.28 94.69 L1317.49 93.71 L1318.71 92.73 L1319.92 91.76 L1321.13 90.8 L1322.34 89.86 L1323.55 88.92 L1324.76 88.01 L1325.97 87.1 L1327.18 86.21 L1328.39 85.33 L1329.6 84.46 L1330.81 83.59 L1332.02 82.74 L1333.23 81.89 L1334.44 81.04 L1335.65 80.21 L1336.86 79.37 L1338.08 78.54 L1339.29 77.71 L1340.5 76.88 L1341.71 76.05 L1342.92 75.23 L1344.13 74.42 L1345.34 73.61 L1346.55 72.81 L1347.76 72.01 L1348.97 71.22 L1350.18 70.44 L1351.39 69.67 L1352.6 68.91 L1353.81 68.15 L1355.02 67.41 L1356.23 66.67 L1357.45 65.94 L1358.66 65.21 L1359.87 64.49 L1361.08 63.78 L1362.29 63.07 L1363.5 62.36 L1364.71 61.66 L1365.92 60.95 L1367.13 60.26 L1368.34 59.56 L1369.55 58.87 L1370.76 58.18 L1371.97 57.49 L1373.18 56.8 L1374.39 56.12 L1375.6 55.45 L1376.82 54.77 L1378.03 54.1 L1379.24 53.43 L1380.45 52.77 L1381.66 52.11 L1382.87 51.45 L1384.08 50.8 L1385.29 50.15 L1386.5 49.5" stroke="#f00" stroke-dasharray="9.29 4.02" stroke-dashoffset="0.2"/>
<path d="M782.4 438.6 L783.62 438.6 L784.83 438.6 L786.05 438.6 L787.26 438.6 L788.48 438.6 L789.7 438.6 L790.91 438.6 L792.13 438.6 L793.35 438.6 L794.56 438.6 L795.78 438.6 L796.99 438.6 L798.21 438.6 L799.43 438.6 L800.64 438.6 L801.86 438.6 L803.08 438.6 L804.29 438.6 L805.51 438.6 L806.72 438.6 L807.94 438.6 L809.16 438.6 L810.37 438.6 L811.59 438.6 L812.81 438.6 L814.02 438.6 L815.24 438.6 L816.45 438.6 L817.67 438.6 L818.89 438.6 L820.1 438.6 L821.32 438.6 L822.54 438.6 L823.75 438.6 L824.97 438.6 L826.18 438.6 L827.4 438.6 L828.62 438.6 L829.83 438.6 L831.05 438.6 L832.27 438.6 L833.48 438.6 L834.7 438.6 L835.91 438.6 L837.13 438.6 L838.35 438.6 L839.56 438.6 L840.78 438.6 L842 438.6 L843.21 438.6 L844.43 438.6 L845.64 438.6 L846.86 438.6 L848.08 438.6 L849.29 438.6 L850.51 438.6 L851.73 438.6 L852.94 438.6 L854.16 438.6 L855.37 438.6 L856.59 438.6 L857.81 438.6 L859.02 438.6 L860.24 438.6 L861.46 438.6 L862.67 438.6 L863.89 438.6 L865.1 438.6 L866.32 438.6 L867.54 438.6 L868.75 438.6 L869.97 438.6 L871.18 438.6 L872.4 438.6 L873.62 438.6 L874.83 438.6 L876.05 438.6 L877.27 438.6 L878.48 438.6 L879.7 438.6 L880.91 438.6 L882.13 438.6 L883.35 438.6 L884.56 438.6 L885.78 438.6 L887 438.6 L888.21 438.6 L889.43 438.6 L890.64 438.6 L891.86 438.6 L893.08 438.6 L894.29 438.6 L895.51 438.6 L896.73 438.6 L897.94 438.6 L899.16 438.6 L900.37 438.6 L901.59 438.6 L902.81 438.6 L904.02 438.6 L905.24 438.6 L906.46 438.6 L907.67 438.6 L908.89 438.6 L910.1 438.6 L911.32 438.6 L912.54 438.6 L913.75 438.6 L914.97 438.6 L916.19 438.6 L917.4 438.6 L918.62 438.6 L919.83 438.6 L921.05 438.6 L922.27 438.6 L923.48 438.6 L924.7 438.6 L925.92 438.6 L927.13 438.6 L928.35 438.6 L929.56 438.6 L930.78 438.6 L932 438.6 L933.21 438.6 L934.43 438.6 L935.65 438.6 L936.86 438.6 L938.08 438.6 L939.29 438.6 L940.51 438.6 L941.73 438.6 L942.94 438.6 L944.16 438.6 L945.38 438.6 L946.59 438.6 L947.81 438.6 L949.02 438.6 L950.24 438.6 L951.46 438.6 L952.67 438.6 L953.89 438.6 L955.11 438.6 L956.32 438.6 L957.54 438.6 L958.75 438.6 L959.97 438.6 L961.19 438.6 L962.4 438.6 L963.62 438.6 L964.83 438.6 L966.05 438.6 L967.27 438.6 L968.48 438.6 L969.7 438.6 L970.92 438.6 L972.13 438.6 L973.35 438.6 L974.56 438.6 L975.78 438.6 L977 438.6 L978.21 438.6 L979.43 438.6 L980.65 438.6 L981.86 438.6 L983.08 438.6 L984.29 438.6 L985.51 438.6 L986.73 438.6 L987.94 438.6 L989.16 438.6 L990.38 438.6 L991.59 438.6 L992.81 438.6 L994.02 438.6 L995.24 438.6 L996.46 438.6 L997.67 438.6 L998.89 438.6 L1000.11 438.6 L1001.32 438.6 L1002.54 438.6 L1003.75 438.6 L1004.97 438.6 L1006.19 438.6 L1007.4 438.6 L1008.62 438.6 L1009.84 438.6 L1011.05 438.6 L1012.27 438.6 L1013.48 438.6 L1014.7 438.6 L1015.92 438.6 L1017.13 438.6 L1018.35 438.6 L1019.57 438.6 L1020.78 438.6 L1022 438.6 L1023.21 438.6 L1024.43 438.6 L1025.65 438.6 L1026.86 438.6 L1028.08 438.6 L1029.3 438.6 L1030.51 438.6 L1031.73 438.6 L1032.94 438.6 L1034.16 438.6 L1035.38 438.6 L1036.59 438.6 L1037.81 438.6 L1039.03 438.6 L1040.24 438.6 L1041.46 438.6 L1042.67 438.6 L1043.89 438.6 L1045.11 438.6 L1046.32 438.6 L1047.54 438.6 L1048.75 438.6 L1049.97 438.6 L1051.19 438.6 L1052.4 438.6 L1053.62 438.6 L1054.84 438.6 L1056.05 438.6 L1057.27 438.6 L1058.48 438.6 L1059.7 438.6 L1060.92 438.6 L1062.13 438.6 L1063.35 438.6 L1064.57 438.6 L1065.78 438.6 L1067 438.6 L1068.21 438.6 L1069.43 438.6 L1070.65 438.6 L1071.86 438.6 L1073.08 438.6 L1074.3 438.6 L1075.51 438.6 L1076.73 438.6 L1077.94 438.6 L1079.16 438.6 L1080.38 438.6 L1081.59 438.6 L1082.81 438.6 L1084.03 438.6 L1085.24 438.6 L1086.46 438.6 L1087.67 438.6 L1088.89 438.6 L1090.11 438.6 L1091.32 438.6 L1092.54 438.6 L1093.76 438.6 L1094.97 438.6 L1096.19 438.6 L1097.4 438.6 L1098.62 438.6 L1099.84 438.6 L1101.05 438.6 L1102.27 438.6 L1103.49 438.6 L1104.7 438.6 L1105.92 438.6 L1107.13 438.6 L1108.35 438.6 L1109.57 438.6 L1110.78 438.6 L1112 438.6 L1113.22 438.6 L1114.43 438.6 L1115.65 438.6 L1116.86 438.6 L1118.08 438.6 L1119.3 438.6 L1120.51 438.6 L1121.73 438.6 L1122.95 438.6 L1124.16 438.6 L1125.38 438.6 L1126.59 438.6 L1127.81 438.6 L1129.03 438.6 L1130.24 438.6 L1131.46 438.6 L1132.67 438.6 L1133.89 438.6 L1135.11 438.6 L1136.32 438.6 L1137.54 438.6 L1138.76 438.6 L1139.97 438.6 L1141.19 438.6 L1142.4 438.6 L1143.62 438.6 L1144.84 438.6 L1146.05 438.6 L1147.27 438.6 L1148.49 438.6 L1149.7 438.6 L1150.92 438.6 L1152.13 438.6 L1153.35 438.6 L1154.57 438.6 L1155.78 438.6 L1157 438.6 L1158.22 438.6 L1159.43 438.6 L1160.65 438.6 L1161.86 438.6 L1163.08 438.6 L1164.3 438.6 L1165.51 438.6 L1166.73 438.6 L1167.95 438.6 L1169.16 438.6 L1170.38 438.6 L1171.59 438.6 L1172.81 438.6 L1174.03 438.6 L1175.24 438.6 L1176.46 438.6 L1177.68 438.6 L1178.89 438.6 L1180.11 438.6 L1181.32 438.6 L1182.54 438.6 L1183.76 438.6 L1184.97 438.6 L1186.19 438.6 L1187.41 438.6 L1188.62 438.6 L1189.84 438.6 L1191.05 438.6 L1192.27 438.6 L1193.49 438.6 L1194.7 438.6 L1195.92 438.6 L1197.14 438.6 L1198.35 438.6 L1199.57 438.6 L1200.78 438.6 L1202 438.6 L1203.22 438.6 L1204.43 438.6 L1205.65 438.6 L1206.87 438.6 L1208.08 438.6 L1209.3 438.6 L1210.51 438.6 L1211.73 438.6 L1212.95 438.6 L1214.16 438.6 L1215.38 438.6 L1216.59 438.6 L1217.81 438.6 L1219.03 438.6 L1220.24 438.6 L1221.46 438.6 L1222.68 438.6 L1223.89 438.6 L1225.11 438.6 L1226.32 438.6 L1227.54 438.6 L1228.76 438.6 L1229.97 438.6 L1231.19 438.6 L1232.41 438.6 L1233.62 438.6 L1234.84 438.6 L1236.05 438.6 L1237.27 438.6 L1238.49 438.6 L1239.7 438.6 L1240.92 438.6 L1242.14 438.6 L1243.35 438.6 L1244.57 438.6 L1245.78 438.6 L1247 438.6 L1248.22 438.6 L1249.43 438.6 L1250.65 438.6 L1251.87 438.6 L1253.08 438.6 L1254.3 438.6 L1255.51 438.6 L1256.73 438.6 L1257.95 438.6 L1259.16 438.6 L1260.38 438.6 L1261.6 438.6 L1262.81 438.6 L1264.03 438.6 L1265.24 438.6 L1266.46 438.6 L1267.68 438.6 L1268.89 438.6 L1270.11 438.6 L1271.33 438.6 L1272.54 438.6 L1273.76 438.6 L1274.97 438.6 L1276.19 438.6 L1277.41 438.6 L1278.62 438.6 L1279.84 438.6 L1281.06 438.6 L1282.27 438.6 L1283.49 438.6 L1284.7 438.6 L1285.92 438.6 L1287.14 438.6 L1288.35 438.6 L1289.57 438.6 L1290.79 438.6 L1292 438.6 L1293.22 438.6 L1294.43 438.6 L1295.65 438.6 L1296.87 438.6 L1298.08 438.6 L1299.3 438.6 L1300.52 438.6 L1301.73 438.6 L1302.95 438.6 L1304.16 438.6 L1305.38 438.6 L1306.6 438.6 L1307.81 438.59 L1309.03 438.58 L1310.24 438.57 L1311.46 438.55 L1312.68 438.53 L1313.89 438.51 L1315.11 438.49 L1316.33 438.47 L1317.54 438.45 L1318.76 438.42 L1319.97 438.4 L1321.19 438.38 L1322.41 438.35 L1323.62 438.33 L1324.84 438.3 L1326.06 438.27 L1327.27 438.24 L1328.49 438.2 L1329.7 438.15 L1330.92 438.11 L1332.14 438.05 L1333.35 437.97 L1334.57 437.88 L1335.79 437.78 L1337 437.66 L1338.22 437.53 L1339.43 437.39 L1340.65 437.25 L1341.87 437.1 L1343.08 436.94 L1344.3 436.76 L1345.52 436.55 L1346.73 436.33 L1347.95 436.09 L1349.16 435.84 L1350.38 435.57 L1351.6 435.27 L1352.81 434.95 L1354.03 434.61 L1355.25 434.26 L1356.46 433.89 L1357.68 433.5 L1358.89 433.08 L1360.11 432.65 L1361.33 432.19 L1362.54 431.7 L1363.76 431.19 L1364.98 430.64 L1366.19 430.06 L1367.41 429.45 L1368.62 428.8 L1369.84 428.1 L1371.06 427.36 L1372.27 426.58 L1373.49 425.77 L1374.71 424.9 L1375.92 423.97 L1377.14 423.02 L1378.35 422.04 L1379.57 421.03 L1380.79 420 L1382 418.93 L1383.22 417.83 L1384.44 416.7 L1385.65 415.53 L1386.87 414.32 L1388.08 413.08 L1389.3 411.8" stroke="#f00" stroke-dasharray="2.51 4.14"/>
</g>
<g stroke="#000" fill="none">
<path d="M83.5 458.5 v4.8 M161.69 458.5 v4.8 M239.88 458.5 v4.8 M318.06 458.5 v4.8 M396.25 458.5 v4.8 M474.44 458.5 v4.8 M552.62 458.5 v4.8 M630.81 458.5 v4.8 M709 458.5 v4.8 M83.5 51.3 h-4.8 M83.5 200.7 h-4.8 M83.5 350.1 h-4.8 " stroke-width="1.15"/>
<path d="M83.5 454.53 h-2.87 M83.5 428.22 h-2.87 M83.5 409.55 h-2.87 M83.5 395.07 h-2.87 M83.5 383.24 h-2.87 M83.5 373.24 h-2.87 M83.5 364.58 h-2.87 M83.5 356.94 h-2.87 M83.5 305.13 h-2.87 M83.5 278.82 h-2.87 M83.5 260.15 h-2.87 M83.5 245.67 h-2.87 M83.5 233.84 h-2.87 M83.5 223.84 h-2.87 M83.5 215.18 h-2.87 M83.5 207.54 h-2.87 M83.5 155.73 h-2.87 M83.5 129.42 h-2.87 M83.5 110.75 h-2.87 M83.5 96.27 h-2.87 M83.5 84.44 h-2.87 M83.5 74.44 h-2.87 M83.5 65.78 h-2.87 M83.5 58.14 h-2.87 " stroke-width="0.86"/>
<rect x="83.5" y="28.5" width="625.5" height="430" stroke-width="1"/>
</g>
<g stroke="#000" fill="none">
<path d="M1001.3 458.5 v4.8 M1259.9 458.5 v4.8 M792 152.8 h-4.8 M792 332.4 h-4.8 " stroke-width="1.15"/>
<path d="M820.55 458.5 v2.87 M866.08 458.5 v2.87 M898.39 458.5 v2.87 M923.45 458.5 v2.87 M943.93 458.5 v2.87 M961.24 458.5 v2.87 M976.24 458.5 v2.87 M989.47 458.5 v2.87 M1079.15 458.5 v2.87 M1124.68 458.5 v2.87 M1156.99 458.5 v2.87 M1182.05 458.5 v2.87 M1202.53 458.5 v2.87 M1219.84 458.5 v2.87 M1234.84 458.5 v2.87 M1248.07 458.5 v2.87 M1337.75 458.5 v2.87 M1383.28 458.5 v2.87 M1415.59 458.5 v2.87 M792 457.94 h-2.87 M792 426.31 h-2.87 M792 403.87 h-2.87 M792 386.46 h-2.87 M792 372.24 h-2.87 M792 360.22 h-2.87 M792 349.81 h-2.87 M792 340.62 h-2.87 M792 278.34 h-2.87 M792 246.71 h-2.87 M792 224.27 h-2.87 M792 206.86 h-2.87 M792 192.64 h-2.87 M792 180.62 h-2.87 M792 170.21 h-2.87 M792 161.02 h-2.87 M792 98.74 h-2.87 M792 67.11 h-2.87 M792 44.67 h-2.87 " stroke-width="0.86"/>
<rect x="792" y="28.5" width="625.5" height="430" stroke-width="1"/>
</g>
<text x="83.5" y="482.5" text-anchor="middle">0</text>
<text x="161.69" y="482.5" text-anchor="middle">5</text>
<text x="239.88" y="482.5" text-anchor="middle">10</text>
<text x="318.06" y="482.5" text-anchor="middle">15</text>
<text x="396.25" y="482.5" text-anchor="middle">20</text>
<text x="474.44" y="482.5" text-anchor="middle">25</text>
<text x="552.62" y="482.5" text-anchor="middle">30</text>
<text x="630.81" y="482.5" text-anchor="middle">35</text>
<text x="709" y="482.5" text-anchor="middle">40</text>
<text x="26.85" y="58.7">10<tspan dy="-7.8" font-size="14.14">−6</tspan></text>
<text x="26.85" y="208.1">10<tspan dy="-7.8" font-size="14.14">−7</tspan></text>
<text x="26.85" y="357.5">10<tspan dy="-7.8" font-size="14.14">−8</tspan></text>
<text x="735.45" y="160.2">10<tspan dy="-7.8" font-size="14.14">−7</tspan></text>
<text x="735.45" y="339.8">10<tspan dy="-7.8" font-size="14.14">−8</tspan></text>
<text x="977.75" y="483">10<tspan dy="-7.8" font-size="14.14">12</tspan></text>
<text x="1236.35" y="483">10<tspan dy="-7.8" font-size="14.14">13</tspan></text>
<text x="396.3" y="511.7" text-anchor="middle" font-size="22.95">x [m]</text>
<text x="1104.9" y="511.5" text-anchor="middle" font-size="22.95">time [s]</text>
<text transform="translate(17.3 243.1) rotate(-90)" text-anchor="middle" font-size="22.95" letter-spacing="-0.135">U concentration [mol/kgw]</text>
<text transform="translate(0.64 29.9) scale(1.083 1.025)" font-size="41.7" font-weight="bold" class="b" font-family='"Liberation Sans", "DejaVu Sans", sans-serif'>A</text>
<text transform="translate(740.0 30.0) scale(0.98 1.022)" font-size="41.7" font-weight="bold" class="b" font-family='"Liberation Sans", "DejaVu Sans", sans-serif'>B</text>
<rect x="448" y="38.5" width="250.6" height="64.5" rx="2.8" ry="2.8" fill="#fff" fill-opacity="0.8" stroke="#ccc" stroke-opacity="0.8" stroke-width="1.43"/>
<path d="M456.1 54.45 H496.4" stroke="#000" stroke-width="2.6" stroke-dasharray="9.29 4.02" fill="none"/>
<circle cx="476.2" cy="83.8" r="5.0" fill="none" stroke="#000" stroke-width="1.43"/>
<text x="512.3" y="61.65">OGS#iPhr</text>
<text x="512.3" y="91.15">OGS-LT, 24 points</text>
<rect x="801.8" y="38.5" width="325.1" height="123.4" rx="2.8" ry="2.8" fill="#fff" fill-opacity="0.8" stroke="#ccc" stroke-opacity="0.8" stroke-width="1.43"/>
<g fill="none" stroke-width="2.6">
<path d="M809.9 54.45 H850.2" stroke="#000" stroke-linecap="square"/>
<path d="M809.9 83.95 H850.2" stroke="#000" stroke-dasharray="16.06 4.02 2.51 4.02"/>
<path d="M809.9 113.45 H850.2" stroke="#f00" stroke-dasharray="9.29 4.02"/>
<path d="M809.9 142.95 H850.2" stroke="#f00" stroke-dasharray="2.51 4.14"/>
</g>
<text x="866.0" y="61.65">OGS#iPhr, 5 m</text>
<text x="866.0" y="91.15">OGS#iPhr, 18 m</text>
<text x="866.0" y="120.65">OGS-LT, 5 m (24 points)</text>
<text x="866.0" y="150.15">OGS-LT, 18 m (24 points)</text>
</svg>
</body></html>
